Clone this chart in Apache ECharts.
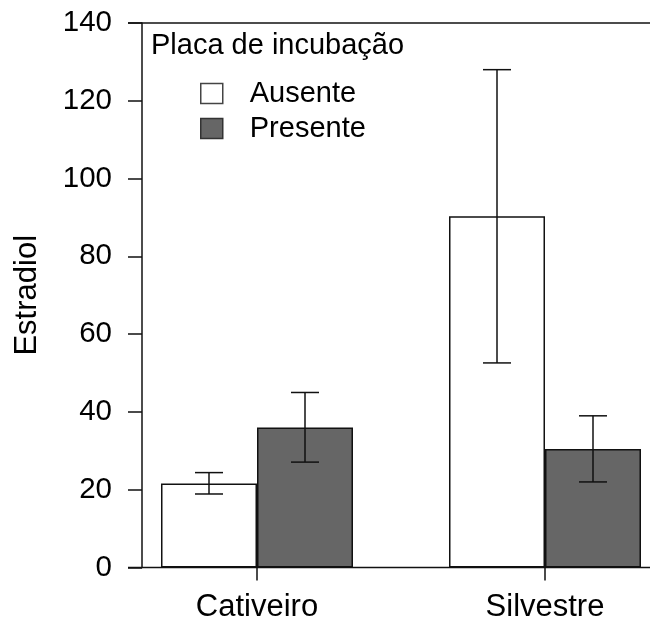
<!DOCTYPE html>
<html>
<head>
<meta charset="utf-8">
<script src="https://cdn.jsdelivr.net/npm/echarts@6/dist/echarts.min.js"></script>
<style>
html,body{margin:0;padding:0;background:#fff;}
#chart{width:650px;height:619px;}
</style>
</head>
<body>
<div id="chart"></div>
<script>
const categories = ['Cativeiro', 'Silvestre'];
const seriesNames = ['Ausente', 'Presente'];
const ausente = [21.6, 90.3];
const presente = [36.0, 30.5];
const ausenteLow = [18.9, 52.6];
const ausenteHigh = [24.4, 128.0];
const presenteLow = [27.1, 22.0];
const presenteHigh = [45.0, 39.0];
const yTicks = [0, 20, 40, 60, 80, 100, 120, 140];
const legendTitle = 'Placa de incubação';
const yName = 'Estradiol';

const FONT = '"Liberation Sans", Arial, sans-serif';
const FS = 29;
const FS_AX = 31;
const INK = '#111111';

function errData(low, high) {
  return categories.map((c, i) => [i, low[i], high[i]]);
}
function errSeries(name, low, high, sign) {
  return {
    type: 'custom',
    name: name + ' erro',
    z: 5,
    silent: true,
    data: errData(low, high),
    renderItem: function (params, api) {
      const band = api.size([1, 0])[0];
      const cx = api.coord([api.value(0), 0])[0] + sign * band / 6;
      const yl = api.coord([api.value(0), api.value(1)])[1];
      const yh = api.coord([api.value(0), api.value(2)])[1];
      const hw = 14;
      const st = { stroke: INK, lineWidth: 1.5 };
      return {
        type: 'group',
        children: [
          { type: 'line', shape: { x1: cx, y1: yl, x2: cx, y2: yh }, style: st },
          { type: 'line', shape: { x1: cx - hw, y1: yl, x2: cx + hw, y2: yl }, style: st },
          { type: 'line', shape: { x1: cx - hw, y1: yh, x2: cx + hw, y2: yh }, style: st }
        ]
      };
    }
  };
}

const chart = echarts.init(document.getElementById('chart'), null, { renderer: 'canvas' });
const option = {
  backgroundColor: '#fff',
  animation: false,
  textStyle: { fontFamily: FONT },
  title: {
    text: legendTitle,
    left: 151,
    top: 31,
    padding: 0,
    textStyle: { fontFamily: FONT, fontSize: FS, fontWeight: 'normal', color: '#000' }
  },
  legend: {
    orient: 'vertical',
    left: 200,
    top: 79,
    padding: 0,
    itemWidth: 22,
    itemHeight: 20,
    itemGap: 6,
    icon: 'rect',
    textStyle: { fontFamily: FONT, fontSize: FS, color: '#000', padding: [0, 0, 0, 22] },
    data: [
      { name: seriesNames[0], itemStyle: { color: '#fff', borderColor: '#444', borderWidth: 1.5 } },
      { name: seriesNames[1], itemStyle: { color: '#666666', borderColor: '#333', borderWidth: 1.5 } }
    ]
  },
  grid: { left: 113, right: -39, top: 23, bottom: 51.5, containLabel: false, outerBoundsMode: 'none' },
  xAxis: {
    type: 'category',
    data: categories,
    boundaryGap: true,
    axisLine: { show: false },
    axisTick: { show: true, alignWithLabel: true, length: 13, lineStyle: { color: INK, width: 1.5 } },
    axisLabel: { fontFamily: FONT, fontSize: FS_AX, color: '#000', margin: 24 },
    splitLine: { show: false }
  },
  yAxis: {
    type: 'value',
    min: yTicks[0],
    max: yTicks[yTicks.length - 1],
    interval: yTicks[1] - yTicks[0],
    offset: -29,
    name: yName,
    nameLocation: 'middle',
    nameGap: 99,
    nameTextStyle: { fontFamily: FONT, fontSize: FS_AX, color: '#000' },
    axisLine: { show: true, lineStyle: { color: INK, width: 1.5 } },
    axisTick: { show: true, length: 14, lineStyle: { color: INK, width: 1.5 } },
    axisLabel: { fontFamily: FONT, fontSize: 29.5, color: '#000', margin: 30 },
    splitLine: { show: false }
  },
  series: [
    {
      name: seriesNames[0],
      type: 'bar',
      data: ausente,
      barWidth: '33.333%',
      barGap: '0%',
      itemStyle: { color: '#ffffff', borderColor: INK, borderWidth: 1.5 }
    },
    {
      name: seriesNames[1],
      type: 'bar',
      data: presente,
      barWidth: '33.333%',
      barGap: '0%',
      itemStyle: { color: '#666666', borderColor: INK, borderWidth: 1.5 }
    },
    errSeries(seriesNames[0], ausenteLow, ausenteHigh, -1),
    errSeries(seriesNames[1], presenteLow, presenteHigh, 1)
  ]
};
chart.setOption(option);

const yBottom = chart.convertToPixel({ yAxisIndex: 0 }, yTicks[0]);
const yTop = chart.convertToPixel({ yAxisIndex: 0 }, yTicks[yTicks.length - 1]);
chart.setOption({
  graphic: [
    { type: 'line', z: 10, shape: { x1: 128, y1: yBottom, x2: 650, y2: yBottom }, style: { stroke: INK, lineWidth: 1.5 } },
    { type: 'line', z: 10, shape: { x1: 128, y1: yTop, x2: 650, y2: yTop }, style: { stroke: INK, lineWidth: 1.5 } }
  ]
});
</script>
</body>
</html>
